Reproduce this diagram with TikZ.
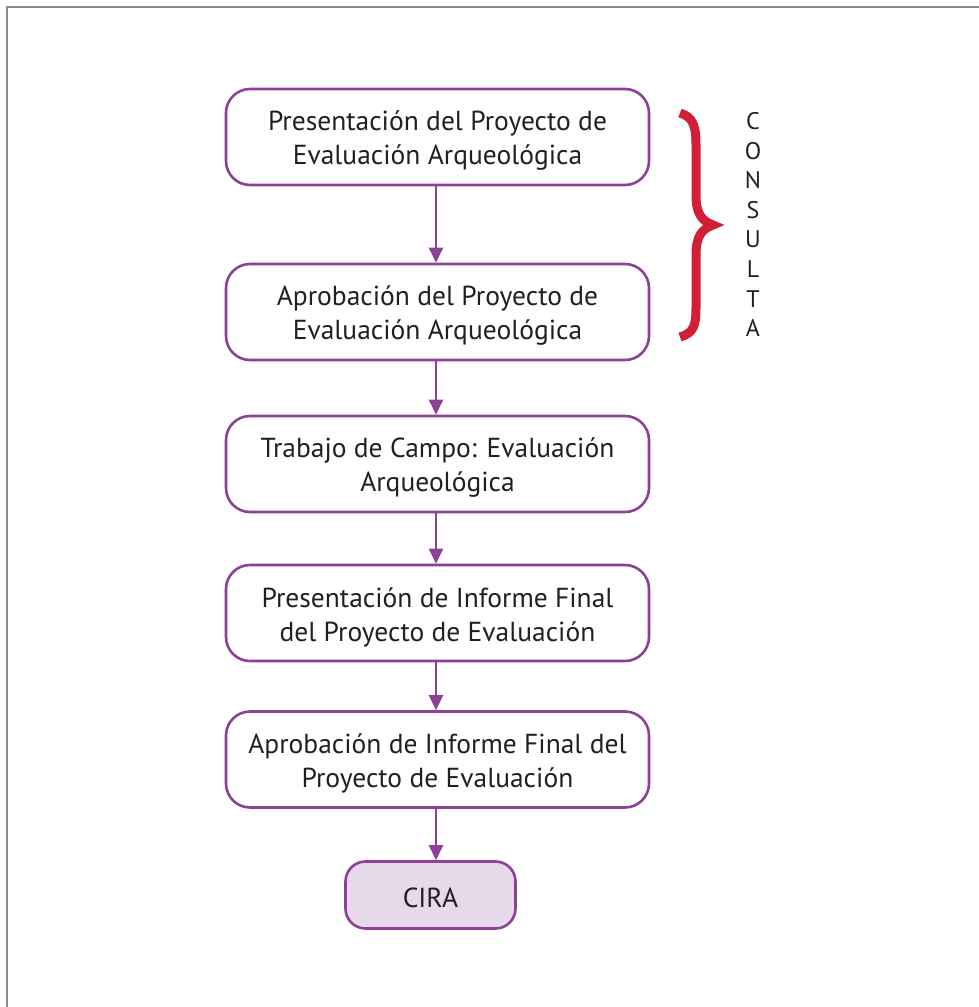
\documentclass[tikz,border=0pt]{standalone}
\usepackage{fontspec}
\setmainfont{PT Sans}
\usetikzlibrary{arrows.meta}
\definecolor{purp}{HTML}{8E3F98}
\definecolor{cirafill}{HTML}{E6D9EA}
\definecolor{bracered}{HTML}{D11F35}
\definecolor{txt}{HTML}{231F20}
\definecolor{frame}{HTML}{8A8A8A}
\begin{document}
\begin{tikzpicture}[x=1pt,y=-1pt,
  stepbox/.style={draw=purp,line width=2.6pt,rounded corners=24pt,minimum width=423pt,minimum height=96pt,inner sep=0pt},
  cirabox/.style={draw=purp,line width=2.6pt,rounded corners=20pt,fill=cirafill,minimum width=170pt,minimum height=67pt,inner sep=0pt},
  steptext/.style={align=center,text=txt,font=\fontsize{27.5}{34}\selectfont,inner sep=0pt},
  flow/.style={draw=purp,line width=2.4pt,-{Triangle[length=15pt,width=14pt]}},
  letter/.style={text=txt,font=\fontsize{24}{24}\selectfont,inner sep=0pt}]
\useasboundingbox (0,0) rectangle (979,1007);
\draw[frame,line width=2pt] (7,1010) -- (7,7) -- (982,7);
\node[stepbox] (b1) at (437.5,137) {};
\node[stepbox] (b2) at (437.5,312) {};
\node[stepbox] (b3) at (437.5,464) {};
\node[stepbox] (b4) at (437.5,613) {};
\node[stepbox] (b5) at (437.5,759.5) {};
\node[cirabox] (c) at (430.5,895) {};
\node[steptext] (t1) at ([yshift=-4pt]b1.center) {Presentación del Proyecto de\\Evaluación Arqueológica};
\node[steptext] (t2) at ([yshift=-4pt]b2.center) {Aprobación del Proyecto de\\Evaluación Arqueológica};
\node[steptext] (t3) at ([yshift=-4pt]b3.center) {Trabajo de Campo: Evaluación\\Arqueológica};
\node[steptext] (t4) at ([yshift=-4pt]b4.center) {Presentación de Informe Final\\del Proyecto de Evaluación};
\node[steptext] (t5) at ([yshift=-4pt]b5.center) {Aprobación de Informe Final del\\Proyecto de Evaluación};
\node[steptext] (tc) at ([yshift=-3pt]c.center) {CIRA};
\draw[flow] (b1.south -| 436,0) -- (b2.north -| 436,0);
\draw[flow] (b2.south -| 436,0) -- (b3.north -| 436,0);
\draw[flow] (b3.south -| 436,0) -- (b4.north -| 436,0);
\draw[flow] (b4.south -| 436,0) -- (b5.north -| 436,0);
\draw[flow] (b5.south -| 436,0) -- (c.north -| 436,0);
\draw[bracered,line width=9pt] (680,113) .. controls (694,117) and (696,128) .. (696,145) -- (696,195) .. controls (696,214) and (702,221) .. (713,225) .. controls (702,229) and (696,236) .. (696,255) -- (696,308) .. controls (696,325) and (694,333) .. (680,337);
\foreach \l [count=\i] in {C,O,N,S,U,L,T,A}
  \node[letter] (l\i) at (753,{121+29.6*(\i-1)}) {\l};
\end{tikzpicture}
\end{document}
